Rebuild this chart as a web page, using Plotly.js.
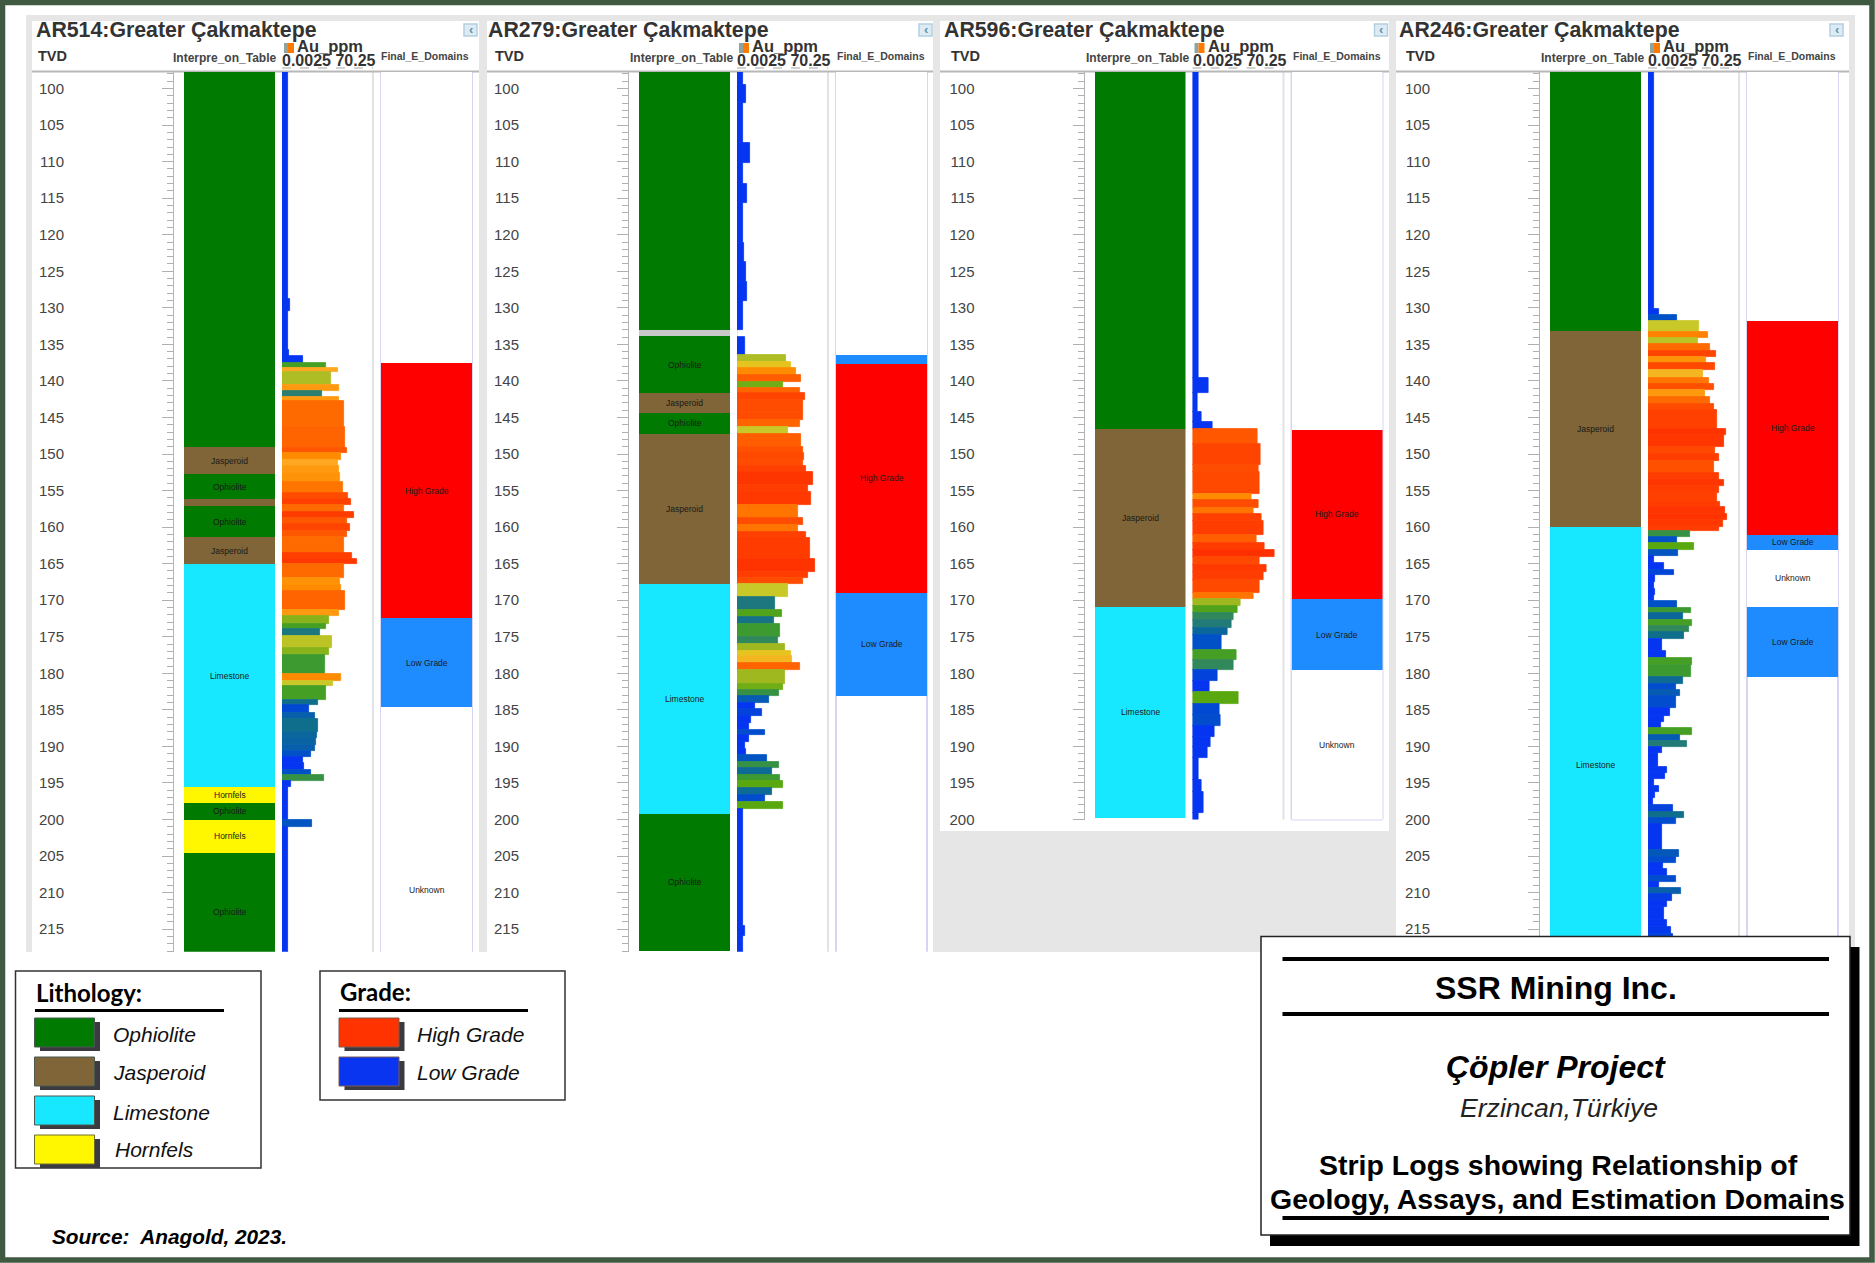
<!DOCTYPE html>
<html><head><meta charset="utf-8">
<script src="https://cdn.plot.ly/plotly-3.0.1.min.js"></script>
<style>html,body{margin:0;padding:0;background:#fff}#g{width:1875px;height:1263px}</style>
</head><body><div id="g"></div>
<script>
// ---------- DATA ----------
// Hole names and depth limits (TVD)
const holes = ['AR514','AR279','AR596','AR246'];
const areaName = 'Greater Çakmaktepe';
const holeBottom = [218.1, 218.1, 200, 218.1];
const tvdTop = 97.74;
const trackNames = ['Interpre_on_Table','Au_ppm','Final_E_Domains'];
const auScaleLabel = '0.0025 70.25';

// Lithology intervals: depth breaks, rock per interval, printed label per interval
const lith514Depth = [97,149.1,152.8,156.1,157.1,161.4,165.1,195.5,197.7,200,204.6,220.6];
const lith514Rock  = ['Ophiolite','Jasperoid','Ophiolite','Jasperoid','Ophiolite','Jasperoid','Limestone','Hornfels','Ophiolite','Hornfels','Ophiolite'];
const lith514Text  = ['','Jasperoid','Ophiolite','','Ophiolite','Jasperoid','Limestone','Hornfels','Ophiolite','Hornfels','Ophiolite'];
const lith279Depth = [97,133,133.9,141.7,144.4,147.2,167.8,199.2,218];
const lith279Rock  = ['Ophiolite','None','Ophiolite','Jasperoid','Ophiolite','Jasperoid','Limestone','Ophiolite'];
const lith279Text  = ['','','Ophiolite','Jasperoid','Ophiolite','Jasperoid','Limestone','Ophiolite'];
const lith596Depth = [97,146.6,170.9,199.8];
const lith596Rock  = ['Ophiolite','Jasperoid','Limestone'];
const lith596Text  = ['','Jasperoid','Limestone'];
const lith246Depth = [97,133.2,160,225];
const lith246Rock  = ['Ophiolite','Jasperoid','Limestone'];
const lith246Text  = ['','Jasperoid','Limestone'];

// Estimation domains
const dom514Depth = [97,137.5,172.5,184.6,234.6];
const dom514Name  = ['Unknown','High Grade','Low Grade','Unknown'];
const dom514Text  = ['','High Grade','Low Grade','Unknown'];
const dom279Depth = [97,136.4,137.7,169,183.1];
const dom279Name  = ['Unknown','Low Grade','High Grade','Low Grade'];
const dom279Text  = ['','','High Grade','Low Grade'];
const dom596Depth = [97,146.7,169.8,179.6,200];
const dom596Name  = ['Unknown','High Grade','Low Grade','Unknown'];
const dom596Text  = ['','High Grade','Low Grade','Unknown'];
const dom246Depth = [97,131.8,161.1,163.1,170.9,180.5];
const dom246Name  = ['Unknown','High Grade','Low Grade','Unknown','Low Grade'];
const dom246Text  = ['','High Grade','Low Grade','Unknown','Low Grade'];

// Au assays: depth breaks and reading on the log scale of the track (0 = 0.0025 ppm, 100 = 70.25 ppm)
const au514Depth = [97.6,128.8,130.5,135.8,136.6,137.5,138.3,138.8,140.5,141.4,142.2,142.8,146.3,149.2,149.9,150.8,151.7,152.6,153.8,155.3,156.2,157,157.9,158.7,159.6,160.5,161.4,163.6,164.4,165,167,167.9,168.7,171.3,172.2,173.2,174,174.9,176.6,177.5,178.6,180.1,181,181.8,183.6,184.4,185.4,186.3,188,188.9,189.8,190.6,191.4,192.3,193.2,193.9,194.7,195.5,200,201,218.2];
const au514Scale = [7,9,7,8,23,48,61,54,63,44,63,68,69,71,65,61,63,64,67,73,76,68,79,71,75,71,68,77,82,68,64,65,69,63,52,48,42,55,52,47,47,65,56,48,40,30,36,40,38,37,36,32,23,24,32,46,10,7,33,7];
const au279Depth = [97.6,99.5,102,107.5,110.2,113,115.6,121.1,123.7,126.4,129,133,134,136.5,137.4,138.3,139.2,140.1,141,141.7,142.6,144.4,145.3,146.3,147.2,149,149.9,150.8,151.6,152.5,154.3,155.2,157,158.8,159.7,160.6,161.5,164.3,166.1,166.9,167.8,169.6,171.4,172.3,173.3,175,176,176.9,177.7,178.6,179.5,181.4,182.3,183.1,184,184.9,185.8,186.8,187.7,188.5,189.4,190.3,191.2,192.1,193,193.9,194.8,195.7,196.6,197.6,198.5,214.5,216,218.2];
const au279Scale = [7,10,7,14,7,11,7,8,10,11,7,0,9,54,59,65,70,51,69,75,73,73,69,56,70,72,74,73,76,84,78,81,67,73,67,76,80,86,78,73,56,42,49,41,47,45,53,59,60,69,53,51,46,35,20,28,15,13,31,13,9,10,33,46,39,47,50,39,31,50,7,9,7];
const au596Depth = [97.6,139.65,141.6,144.2,145.6,146.6,148.6,151.5,152.5,155.5,156.3,157.4,158.2,159.2,161.1,162.2,163.1,164.1,165.2,166.1,167.2,169,169.8,170.8,171.8,172.7,173.8,174.7,176.8,178.2,179.6,181.1,182.6,184.2,185.7,187.2,188.7,190.1,191.6,194.6,196.2,199.1,200];
const au596Scale = [7,18,6,10,22,71,75,73,74,65,73,67,76,78,70,79,90,74,81,78,74,67,53,49,45,43,38,32,48,45,28,19,50,30,31,24,20,17,7,10,12,7];
const au246Depth = [97.6,130.1,131,131.8,133.3,134.1,135,135.9,136.7,137.6,138.5,139.6,140.4,141.3,142.2,143.1,144,146.6,147.4,149.1,150,150.9,152.6,153.6,154.4,155.3,156.5,157.3,158.2,159,160,160.5,161.3,162.2,163.1,164,164.9,165.8,166.6,167.5,168.4,169.3,170.1,171,171.8,172.7,173.5,174.4,175.3,177,177.9,178.9,180.5,181.4,182.3,183.1,184.8,185.8,186.6,187.5,188.4,189.2,190.1,190.9,192.8,193.7,194.5,195.4,196.2,197.1,198,199,199.8,200.6,204.2,205.1,205.9,206.8,207.7,208.5,209.4,210.2,211.1,212,213.7,214.7,215.6,218.2];
const au246Scale = [7,12,32,56,66,55,68,75,64,74,60,67,72,63,68,73,76,86,83,74,78,72,78,84,78,76,79,85,87,82,78,46,32,50,33,7,18,29,8,7,8,7,32,47,38,48,45,40,15,20,48,47,39,31,35,31,24,18,14,48,35,43,15,11,21,19,7,12,8,6,28,40,31,15,34,31,17,21,31,12,36,26,21,18,21,25,28];

// Legend and title block text
const lithLegend = ['Ophiolite','Jasperoid','Limestone','Hornfels'];
const gradeLegend = ['High Grade','Low Grade'];
const sourceNote = 'Source:\u00a0 Anagold, 2023.';
const companyName = 'SSR Mining Inc.';
const projectName = 'Çöpler Project';
const placeName = 'Erzincan,Türkiye';
const figureTitle = ['Strip Logs showing Relationship of','Geology, Assays, and Estimation Domains'];

// ---------- STYLES ----------
const rockColor = {Ophiolite:'#007a00',Jasperoid:'#7f6537',Limestone:'#18e8ff',Hornfels:'#fff700',None:'#c8c8c8'};
const domainColor = {'High Grade':'#ff0000','Low Grade':'#1e8cff','Unknown':'#ffffff'};
const gradeSwatch = {'High Grade':'#ff3300','Low Grade':'#0a35f0'};
const auScale = [[0,'#0535f0'],[.24,'#0535f0'],[.32,'#0050c8'],[.40,'#0f6e8c'],[.44,'#2a7f70'],[.47,'#3c9a30'],[.50,'#5aa810'],[.53,'#a0b820'],[.56,'#c8c828'],[.59,'#e6c420'],[.61,'#ffa820'],[.65,'#ff8c00'],[.68,'#ff6a00'],[.72,'#ff5000'],[.76,'#ff4000'],[.84,'#ff3500'],[1,'#ff2800']];

// ---------- LAYOUT ----------
const W=1875,H=1263, SANS='Liberation Sans, Arial, sans-serif';
const px=x=>x/W, py=y=>1-y/H;
const tvdToPx=d=>88.5+(d-100)*7.31;
const off=[0,455,910.5,1366];
const tracks=[[184,275],[282,373],[381,472]];
const titleX=[36,488,944,1399], tvdX=[38,495,951,1406];
const panelX=[[32,479],[487,933],[940,1389],[1396,1849]];

const lithD=[lith514Depth,lith279Depth,lith596Depth,lith246Depth];
const lithR=[lith514Rock,lith279Rock,lith596Rock,lith246Rock];
const lithT=[lith514Text,lith279Text,lith596Text,lith246Text];
const domD=[dom514Depth,dom279Depth,dom596Depth,dom246Depth];
const domN=[dom514Name,dom279Name,dom596Name,dom246Name];
const domT=[dom514Text,dom279Text,dom596Text,dom246Text];
const auD=[au514Depth,au279Depth,au596Depth,au246Depth];
const auV=[au514Scale,au279Scale,au596Scale,au246Scale];

const mids=b=>b.slice(0,-1).map((v,i)=>(v+b[i+1])/2);
const sizes=b=>b.slice(0,-1).map((v,i)=>b[i+1]-v);

const data=[],shapes=[],ann=[],layout={};
const rect=(x0,y0,x1,y1,fill,line,lw,layer)=>shapes.push({type:'rect',xref:'paper',yref:'paper',x0:px(x0),x1:px(x1),y0:py(y0),y1:py(y1),fillcolor:fill,line:{color:line||fill,width:lw===undefined?0:lw},layer:layer||'below'});
const hline=(x0,x1,y,c,w,layer,dash)=>shapes.push({type:'line',xref:'paper',yref:'paper',x0:px(x0),x1:px(x1),y0:py(y),y1:py(y),line:{color:c,width:w,dash:dash||'solid'},layer:layer||'below'});
const vline=(x,y0,y1,c,w,layer)=>shapes.push({type:'line',xref:'paper',yref:'paper',x0:px(x),x1:px(x),y0:py(y0),y1:py(y1),line:{color:c,width:w},layer:layer||'below'});
const text=(x,y,t,size,color,anchor,family)=>ann.push({xref:'paper',yref:'paper',x:px(x),y:py(y),text:t,showarrow:false,xanchor:anchor||'left',yanchor:'middle',font:{family:family||SANS,size:size,color:color||'#000'},borderpad:0,borderwidth:0});

// page frame and panel backgrounds
rect(26,15,1855,952,'#e6e6e6');
panelX.forEach((p,i)=>rect(p[0],21,p[1],i===2?831:952,'#ffffff'));

holes.forEach((hole,i)=>{
  const o=off[i], yn=i+1, yName=yn===1?'y':'y'+yn, bottom=holeBottom[i], yb=tvdToPx(bottom);
  const panelL=panelX[i][0], panelR=panelX[i][1];
  layout[yn===1?'yaxis':'yaxis'+yn]={
    domain:[py(yb),py(72)],range:[bottom,tvdTop],autorange:false,anchor:'free',position:px(173+o),side:'left',
    showgrid:false,zeroline:false,showline:true,linecolor:'#b4b4b4',linewidth:1,
    tick0:100,dtick:5,ticks:'outside',ticklen:11,tickcolor:'#b0b0b0',tickwidth:1,ticklabelstandoff:95,
    tickfont:{family:SANS,size:15,color:'#444'},
    minor:{dtick:1,tick0:100,ticks:'outside',ticklen:6,tickcolor:'#b0b0b0',tickwidth:1},fixedrange:true
  };
  const axes=[0,1,2].map(t=>{
    const n=i*3+t+1, xName=n===1?'x':'x'+n;
    layout[n===1?'xaxis':'xaxis'+n]={domain:[px(tracks[t][0]+o),px(tracks[t][1]+o)],range:t===1?[0,100]:[0,1],anchor:yName,visible:false,fixedrange:true};
    return xName;
  });
  // lithology
  const lc=lithR[i].map(r=>rockColor[r]);
  data.push({type:'bar',orientation:'h',xaxis:axes[0],yaxis:yName,y:mids(lithD[i]),width:sizes(lithD[i]),x:lithR[i].map(()=>1),marker:{color:lc,line:{width:0}},hoverinfo:'skip',showlegend:false});
  // assays
  data.push({type:'bar',orientation:'h',xaxis:axes[1],yaxis:yName,y:mids(auD[i]),width:sizes(auD[i]),x:auV[i],marker:{color:auV[i],cmin:0,cmax:100,colorscale:auScale,showscale:false,line:{color:auV[i],cmin:0,cmax:100,colorscale:auScale,width:0.8}},hoverinfo:'skip',showlegend:false});
  // domains
  data.push({type:'bar',orientation:'h',xaxis:axes[2],yaxis:yName,y:mids(domD[i]),width:sizes(domD[i]),x:domN[i].map(()=>1),marker:{color:domN[i].map(r=>domainColor[r]),line:{width:0}},hoverinfo:'skip',showlegend:false});
  // interval labels
  mids(lithD[i]).forEach((d,k)=>{ if(lithT[i][k]) ann.push({xref:axes[0],yref:yName,x:.5,y:d,text:lithT[i][k],showarrow:false,font:{family:SANS,size:8.5,color:'#1a1a1a'}}); });
  mids(domD[i]).forEach((d,k)=>{ if(domT[i][k]) ann.push({xref:axes[2],yref:yName,x:.5,y:d,text:domT[i][k],showarrow:false,font:{family:SANS,size:8.5,color:'#1a1a1a'}}); });
  // track guide lines
  vline(373+o,72,yb,'#e2e2e6',2);
  vline(381+o,72,yb,'#d6d6f4',2);
  vline(472+o,72,yb,'#d6d6f4',2);
  if(i===2) hline(381+o,472+o,yb,'#d6d6f4',2);
  // header
  hline(panelL,panelR,71.5,'#b8b8b8',2);
  text(titleX[i],30,'<b>'+hole+':'+areaName+'</b>',21.3,'#333');
  text(tvdX[i],56,'<b>TVD</b>',14.5,'#333');
  text(173+o+(i?2:0),58,'<b>'+trackNames[0]+'</b>',12,'#444');
  text(297+o,46,'<b>'+trackNames[1]+'</b>',16.5,'#333');
  text(282+o,61,'<b>'+auScaleLabel+'</b>',16,'#333');
  text(381+o+(i?1:0),56,'<b>'+trackNames[2]+'</b>',10.5,'#444');
  rect(284+o,43,288+o,53,'#8fa4a0');
  rect(288+o,43,294+o,53,'#ff7a00');
  hline(282+o,373+o,68,'#c4c4c4',1.5,'below','dash');
  rect(464+o,24,477+o,36,'#dcebf4','#b4cfe0',1.5);
  text(470.5+o,29.5,'<b>‹</b>',13,'#5f8fa8','center');
});
// outer green frame
rect(2.5,2.5,1872,1260,'rgba(0,0,0,0)','#3f5a40',5.5,'above');

// Lithology legend
rect(15.5,971,261,1168,'#ffffff','#333',1.5,'above');
text(36,992,'<b>Lithology:</b>',24,'#000','left','Lato, sans-serif');
hline(35,224,1010.5,'#000',3,'above');
const lithSwY=[1018,1057,1096,1135], lithTxtY=[1034,1072,1112,1149], lithTxtX=[113,113,113,115];
lithLegend.forEach((n,i)=>{
  rect(40,lithSwY[i]+4,100,lithSwY[i]+33,'#3a3a40','#3a3a40',0,'above');
  rect(34.5,lithSwY[i],94.5,lithSwY[i]+29,rockColor[n],n==='Hornfels'?'#6e6e30':'#4a5a50',1,'above');
  text(lithTxtX[i],lithTxtY[i],'<i>'+n+'</i>',21,'#111');
});
// Grade legend
rect(320,971,565,1100,'#ffffff','#333',1.5,'above');
text(339.5,991,'<b>Grade:</b>',24,'#000','left','Lato, sans-serif');
hline(339,528,1010.5,'#000',3,'above');
gradeLegend.forEach((n,i)=>{
  rect(344.5,lithSwY[i]+4,404.5,lithSwY[i]+33,'#3a3a40','#3a3a40',0,'above');
  rect(339,lithSwY[i],399,lithSwY[i]+29,gradeSwatch[n],'#7a5a50',1,'above');
  text(417,lithTxtY[i],'<i>'+n+'</i>',21,'#111');
});
text(52,1236,'<b><i>'+sourceNote+'</i></b>',20.8,'#000');

// Title block
rect(1270,947,1859.5,1246,'#000','#000',0,'above');
rect(1261,936.5,1850,1235,'#ffffff','#222',1.5,'above');
hline(1282.5,1829,959,'#000',4,'above');
hline(1282.5,1829,1014,'#000',4,'above');
hline(1282.5,1829,1218,'#000',4,'above');
text(1556,988,'<b>'+companyName+'</b>',32,'#000','center');
text(1556,1067,'<b><i>'+projectName+'</i></b>',32,'#000','center');
text(1559,1108,'<i>'+placeName+'</i>',26.6,'#222','center');
text(1558,1165,'<b>'+figureTitle[0]+'</b>',28.5,'#000','center');
text(1557,1199,'<b>'+figureTitle[1]+'</b>',28.5,'#000','center');

Object.assign(layout,{width:W,height:H,margin:{l:0,r:0,t:0,b:0,pad:0},paper_bgcolor:'#ffffff',plot_bgcolor:'rgba(0,0,0,0)',barmode:'overlay',bargap:0,showlegend:false,hovermode:false,shapes:shapes,annotations:ann,font:{family:SANS}});
Plotly.newPlot('g',data,layout,{displayModeBar:false,responsive:false});
</script></body></html>
